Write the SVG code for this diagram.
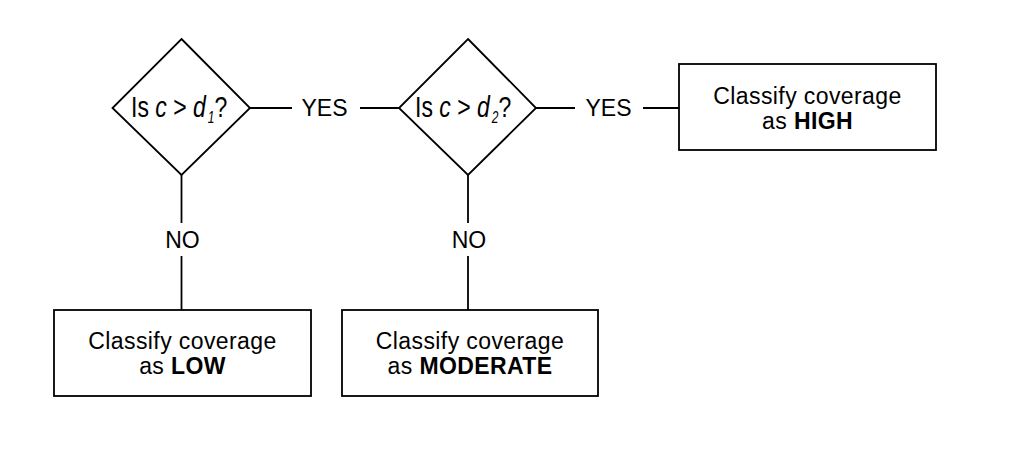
<svg xmlns="http://www.w3.org/2000/svg" width="1024" height="459" viewBox="0 0 1024 459">
  <style>
    .shape { fill: #ffffff; stroke: #000000; stroke-width: 1.8; }
    .conn { stroke: #000000; stroke-width: 1.8; fill: none; }
    .t { font-family: "Liberation Sans", Arial, sans-serif; font-size: 23px; fill: #000000; }
    .box { letter-spacing: 0.4px; text-anchor: middle; }
    .lbl { text-anchor: middle; }
    .b { font-weight: bold; }
    .i { font-style: italic; }
    .sub { font-style: italic; font-size: 12px; }
  </style>
  <rect width="1024" height="459" fill="#ffffff"/>
  <g id="connectors">
    <line class="conn" x1="250" y1="108" x2="292" y2="108"/>
    <line class="conn" x1="360" y1="108" x2="399" y2="108"/>
    <line class="conn" x1="536" y1="108" x2="575" y2="108"/>
    <line class="conn" x1="643" y1="108" x2="679" y2="108"/>
    <line class="conn" x1="181.5" y1="175" x2="181.5" y2="223"/>
    <line class="conn" x1="181.5" y1="256" x2="181.5" y2="310"/>
    <line class="conn" x1="468" y1="175" x2="468" y2="223"/>
    <line class="conn" x1="468" y1="256" x2="468" y2="310"/>
    <text class="t lbl" x="324.5" y="116">YES</text>
    <text class="t lbl" x="608.5" y="116">YES</text>
    <text class="t lbl" x="182.5" y="248">NO</text>
    <text class="t lbl" x="469" y="248">NO</text>
  </g>
  <g id="decision1">
    <polygon class="shape" points="181.5,39 250,108 181.5,175 112.5,108"/>
    <text class="t" transform="translate(131,116.5) scale(1,1.3)" x="0" y="0">Is <tspan class="i">c</tspan> &gt; <tspan class="i">d</tspan><tspan class="sub" dx="2" dy="5">1</tspan><tspan dy="-5">?</tspan></text>
  </g>
  <g id="decision2">
    <polygon class="shape" points="468,39 536,108 468,175 399,108"/>
    <text class="t" transform="translate(415,116.5) scale(1,1.3)" x="0" y="0">Is <tspan class="i">c</tspan> &gt; <tspan class="i">d</tspan><tspan class="sub" dx="2" dy="5">2</tspan><tspan dy="-5">?</tspan></text>
  </g>
  <g id="high">
    <rect class="shape" x="679" y="64" width="257" height="86"/>
    <text class="t box" x="807.5" y="103.5">Classify coverage</text>
    <text class="t box" x="807.5" y="128.5">as <tspan class="b">HIGH</tspan></text>
  </g>
  <g id="low">
    <rect class="shape" x="54" y="310" width="257" height="86"/>
    <text class="t box" x="182.5" y="348.5">Classify coverage</text>
    <text class="t box" x="182.5" y="374">as <tspan class="b">LOW</tspan></text>
  </g>
  <g id="moderate">
    <rect class="shape" x="342" y="310" width="256" height="86"/>
    <text class="t box" x="470" y="348.5">Classify coverage</text>
    <text class="t box" x="470" y="374">as <tspan class="b">MODERATE</tspan></text>
  </g>
</svg>
